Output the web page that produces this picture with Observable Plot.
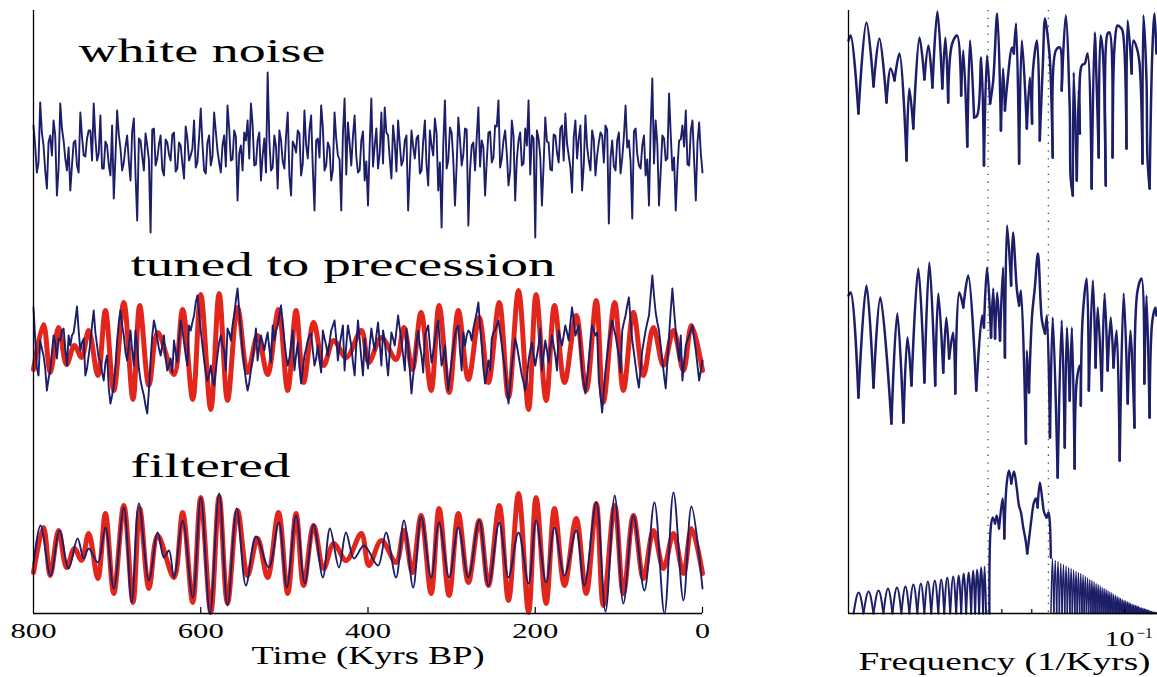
<!DOCTYPE html>
<html><head><meta charset="utf-8">
<script src="https://cdn.jsdelivr.net/npm/d3@7"></script>
<script src="https://cdn.jsdelivr.net/npm/@observablehq/plot@0.6"></script>
<style>
html,body{margin:0;padding:0;background:#fff;}
#wrap{position:relative;width:1157px;height:677px;overflow:hidden;background:#fff;}
#left{position:absolute;left:0;top:0;width:720px;}
#right{position:absolute;left:790px;top:0;width:367px;}
svg{max-width:none !important;}
</style></head><body><div id="wrap"><div id="left"></div><div id="right"></div></div>
<script>
// ---------- LEFT PANEL DATA (time series, Kyrs BP) ----------
const noiseStep = 2; // kyr between samples, starting at 800 Kyrs BP
const whiteNoise = [25,5,-22,-12,48,18,5,-20,-38,8,15,-5,30,15,-45,-18,47,22,10,-8,
-20,3,-40,-15,8,10,-15,-22,38,14,-5,-6,12,20,20,-10,47,12,-10,-3,
35,-18,-18,9,5,-14,-25,25,-48,-7,40,16,2,-20,-12,4,15,-11,-30,19,
32,-24,-70,12,10,-6,-20,17,5,-9,-82,21,22,-15,-8,6,15,-19,-25,11,
8,-4,-10,16,18,-21,-18,8,5,-13,-28,24,12,-10,-5,2,30,-17,-12,13,
42,7,-20,-23,8,15,-15,-6,38,19,0,-12,-22,5,15,-16,45,22,-10,-9,
20,14,-50,-3,5,-20,18,10,30,-8,47,26,-15,-14,10,18,-30,-5,12,-22,
78,11,-20,-17,15,4,-38,20,10,-11,-18,15,38,-25,-45,9,5,-2,20,17,
-25,-13,40,6,-8,21,35,-18,-60,10,12,-7,45,23,-20,-15,8,3,-30,-19,
38,12,-5,-9,-60,16,52,-24,28,8,-15,14,35,-6,-22,-20,10,19,-30,-11,
-55,5,52,-16,5,22,-18,-3,38,-13,43,18,15,-8,-28,25,8,-21,30,7,
-15,-10,10,15,-60,-19,20,4,-8,12,15,-23,-20,9,30,-14,-35,20,5,-5,
32,17,-40,-12,-77,6,50,-18,-10,23,18,-9,-55,-15,33,11,-15,-4,22,21,
-75,-20,5,8,-20,13,43,-16,10,3,-45,-11,18,19,-12,-7,25,24,50,-17,
-8,10,20,-3,-35,-21,30,15,-50,-9,10,18,-15,-13,22,5,50,-24,15,12,
-87,20,12,-6,-55,-14,33,9,8,-19,-20,16,15,-2,-12,22,25,-10,37,7,
-5,-17,-42,13,30,-8,12,25,-40,-15,35,4,-10,-20,20,11,-25,-5,8,18,
15,-12,25,21,-73,-7,10,-16,-20,10,18,-23,-8,14,45,3,10,-11,-68,19,
22,-4,-15,-18,5,15,-25,-9,-55,23,72,-13,30,6,-55,-21,15,12,-10,-8,
57,16,-20,-7,-60,-19,10,11,25,4,40,-14,-15,20,30,-10,-50,8,28,-3,
-22];
const tunedNoise = [43,12,-17,-25,10,2,-5,-18,-40,-28,-20,-2,15,8,-8,12,10,20,22,2,
-15,15,5,15,18,30,44,20,0,8,12,-25,-18,-5,8,25,40,18,5,-8,
-10,-22,-30,-12,-5,-38,-53,-45,-35,-15,10,28,40,25,15,-2,-10,5,20,0,
-15,20,5,-18,-30,-38,-45,-55,-63,-40,-10,15,30,22,12,2,-5,5,15,-8,
-20,-15,-8,-22,10,-2,-12,12,30,22,8,-5,-15,25,20,28,35,48,55,38,
20,5,-10,-22,-30,-25,-15,-28,-35,-20,-5,8,15,5,0,-20,22,18,10,25,
35,50,62,40,20,0,-15,-30,-40,-32,-20,-8,5,22,-10,5,15,8,0,10,
18,2,-12,25,10,20,25,35,45,28,10,-5,-15,-8,5,20,-20,-5,8,-15,
-33,-20,-5,2,10,15,17,0,-15,-8,5,-10,-22,20,12,5,-5,8,20,25,
30,12,-10,5,15,25,-20,5,25,15,5,-12,-25,5,30,12,-8,-25,12,-5,
-18,5,22,10,0,15,28,8,-15,20,10,-8,-25,-2,18,12,5,20,35,22,
10,-5,-20,22,5,-20,-43,-25,-10,8,20,5,-5,-22,15,20,25,5,-12,-2,
10,22,30,5,-15,-8,5,-20,-40,-25,-10,2,15,22,25,0,-20,18,5,15,
20,18,10,22,30,38,48,25,5,-18,-33,-22,-10,-20,12,18,20,25,30,18,
5,-8,-20,-38,-53,-35,-15,-2,12,5,-5,-15,-25,-32,-40,-28,-10,0,8,-5,
-15,-5,5,22,-20,-5,10,0,-12,2,15,5,-5,-20,20,12,5,15,25,18,
10,28,43,30,15,20,25,2,-20,-32,-43,-28,-10,8,25,20,15,18,-30,-45,
-62,-40,-20,-5,10,20,30,22,15,5,-5,-22,20,28,35,45,53,30,10,-2,
-15,-28,-37,-18,0,10,20,28,35,55,75,55,38,28,20,5,-10,-25,-38,-12,
15,40,62,40,20,5,-10,15,-30,-12,5,10,15,20,25,12,0,-15,-30,-20,
-10];
// orbital precession target (extrema), shared by the two lower panels
const precessionTime = [800,788,780,770,760.5,751,742.5,734,723,714,704,692,681,673,662,651.5,632,621.6,609.6,600,
588,578,568,556,544,532,520,507,496,486,477,465,453,441,426,408,399,384,366.5,357,
347,336.5,324.5,315,303,292,280,267,256,243,232,220,208,199,187,177,165,151,139,127,
118.6,105,94.6,82.6,70.7,58.7,46.7,34.7,22.8,13.2,0];
const precessionValue = [-19,26,-22,23,-14,5,-7,20,-25,40,-40,48,-49,45,-35,18,-24,41,-49,56,
-59,57,-50,43,-22,15,-24,41,-40,40,-32,28,-15,10,-7,20,-12,13,-9,23,
-19,38,-40,45,-42,40,-29,33,-32,48,-47,60,-59,56,-50,45,-32,35,-40,50,
-52,48,-40,38,-25,23,-15,20,-20,25,-20];
// band-pass filtered record (extrema)
const filteredTime = [800,791.6,779.6,768.9,758,747.3,740,734,723,714,704,692,682.6,674,662,651.5,644,638,632,621.6,
609.6,600,589,578,568,557,546,534,518.6,506.6,497,486,475.5,465,454,445.5,434.7,426.3,416.8,404.8,
388,378.4,366.5,357,346,336.5,324.5,315,303,292,280,267,256,243,232,220,208,199,187,177,
165,151,141.3,127,116,105,94.6,82.6,69.5,57.5,45.5,34.7,22.8,13.2,0];
const filteredValue = [-10,28,-22,23,-15,15,-5,5,-9,26,-35,46,-49,50,-27,21,-4,3,-24,33,
-44,56,-60,60,-52,45,-32,17,-14,31,-34,38,-30,29,-24,25,-14,21,-5,8,
-12,21,-24,33,-34,37,-24,31,-24,26,-24,33,-32,31,-24,21,-30,33,-29,26,
-22,23,-32,51,-58,58,-50,38,-37,51,-60,61,-47,47,-35];
const timeTicks = [800,600,400,200,0];

// ---------- RIGHT PANEL DATA (spectra vs frequency, 1/Kyrs) ----------
const specTopLogFreq = [-1.895,-1.888,-1.863,-1.837,-1.814,-1.795,-1.772,-1.759,-1.746,-1.730,
-1.707,-1.698,-1.685,-1.665,-1.649,-1.636,-1.623,-1.607,-1.591,-1.581,
-1.572,-1.559,-1.543,-1.530,-1.523,-1.510,-1.501,-1.488,-1.478,-1.465,
-1.456,-1.446,-1.436,-1.426,-1.413,-1.401,-1.394,-1.388,-1.381,-1.365,
-1.359,-1.352,-1.342,-1.333,-1.317,-1.307,-1.300,-1.297,-1.284,-1.275,
-1.265,-1.258,-1.249,-1.242,-1.233,-1.223,-1.210,-1.204,-1.191,-1.178,
-1.175,-1.168,-1.165,-1.155,-1.149,-1.145,-1.139,-1.129,-1.120,-1.107,
-1.097,-1.091,-1.084,-1.078,-1.071,-1.061,-1.055,-1.049,-1.039,-1.032,
-1.023,-1.013,-1.007,-0.994,-0.990,-0.977,-0.971,-0.961,-0.952,-0.942,
-0.939,-0.929,-0.926,-0.919,-0.910,-0.903,-0.897];
const specTopLevel = [155,160,82,173,109,157,93,127,115,142,
35,107,67,158,116,150,108,184,107,158,
93,152,160,100,145,49,155,78,80,138,
30,140,92,115,182,65,127,85,110,148,
142,172,32,155,67,118,72,125,155,55,
132,177,158,135,38,145,148,105,180,88,
18,0,123,15,105,62,130,132,142,7,
163,115,38,160,145,10,162,163,38,152,
170,168,165,47,175,122,155,148,133,32,
180,115,38,7,145,182,142];
const specMidLogFreq = [-1.895,-1.888,-1.863,-1.837,-1.814,-1.792,-1.756,-1.737,-1.717,-1.704,
-1.691,-1.669,-1.649,-1.633,-1.614,-1.604,-1.588,-1.578,-1.569,-1.556,
-1.549,-1.536,-1.523,-1.507,-1.481,-1.462,-1.456,-1.446,-1.433,-1.426,
-1.420,-1.413,-1.404,-1.394,-1.388,-1.381,-1.368,-1.362,-1.349,-1.342,
-1.336,-1.320,-1.317,-1.310,-1.300,-1.291,-1.281,-1.268,-1.258,-1.252,
-1.242,-1.233,-1.217,-1.204,-1.194,-1.187,-1.178,-1.171,-1.162,-1.155,
-1.145,-1.142,-1.136,-1.123,-1.116,-1.103,-1.094,-1.087,-1.074,-1.065,
-1.055,-1.045,-1.036,-1.026,-1.016,-1.003,-0.990,-0.981,-0.968,-0.958,
-0.945,-0.936,-0.929,-0.919,-0.910,-0.900,-0.897];
const specMidLevel = [185,188,83,195,93,183,57,167,58,143,
95,212,98,218,95,187,108,163,122,148,
87,188,173,205,90,165,153,213,143,192,
142,188,140,213,123,255,195,248,190,175,
190,37,130,88,165,193,227,160,147,165,
43,163,3,160,33,153,80,153,12,100,
115,75,163,202,90,200,113,173,90,187,
110,163,113,150,20,187,77,150,53,190,
202,97,185,63,160,173,165];
// filtered spectrum: leakage side lobes below the band
const archZeroFreq = [0.01322,0.01424,0.01534,0.01652,0.01767,0.01889,0.02005,0.02128,0.02242,0.02361,
0.02488,0.02601,0.02720,0.02844,0.02952,0.03064,0.03180,0.03276,0.03375,0.03477,0.03555];
const archHeight = [21,22,23,25,26,27,29,30,32,33,34,36,37,38,40,41,43,44,46,47];
// pass band
const bandFreq = [0.03644,0.03682,0.03737,0.03801,0.03850,0.03916,0.03966,0.04026,0.04074,0.04147,
0.04218,0.04292,0.04379,0.04467,0.04544,0.04613,0.04692,0.04777,0.04834,0.04906,
0.04995,0.05081,0.05157,0.05222,0.05312,0.05404,0.05485,0.05584,0.05667,0.05722,0.05765];
const bandLevel = [0,86,96,90,98,85,101,115,75,130,
143,130,142,126,108,101,86,73,60,76,
96,111,115,106,131,115,101,96,101,91,56];
// side lobes above the band
const denseZeroFreq = [0.0577,0.05895,0.0602,0.06145,0.0627,0.06395,0.0652,0.06645,0.0677,0.06895,
0.0702,0.07145,0.0727,0.07395,0.0752,0.07645,0.0777,0.07895,0.0802,0.08145,
0.0827,0.08395,0.0852,0.08645,0.0877,0.08895,0.0902,0.09145,0.0927,0.09395,
0.0952,0.09645,0.0977,0.09895,0.1002,0.10145,0.1027,0.10395,0.1052,0.10645,
0.1077,0.10895,0.1102,0.11145,0.1127,0.11395,0.1152,0.11645,0.1177,0.11895,
0.1202,0.12145,0.1227,0.12395,0.1252,0.12645,0.1277];
const denseHeight = [55,53,52,50,49,47.5,46,45,43.5,42,
41,40,38.5,37,35.5,34,33,31.5,30,29,
27.5,26,25,24,22.5,21.5,20.5,19,18,17,
16,15,14,13,12.5,11.5,11,10,9,8.5,
8,7.5,7,6,5.5,5,4.5,4,3.5,3,
2.5,2,1.5,1,1,0.5];
const bandEdges = [0.0361, 0.0566]; // precession band (dotted)
const freqTicks = [0.04, 0.05, 0.1];

// ---------- STYLE ----------
const BLUE = "#1c1e6a", RED = "#e3261c", SERIF = "Liberation Serif, Times New Roman, serif";
const OFF_WHITE = 463, OFF_TUNED = 263, OFF_FILT = 60;     // left stacking
const OFF_TOP = 418, OFF_MID = 133, OFF_BOT = 0;            // right stacking

const prec = precessionTime.map((t,i)=>({t, v: precessionValue[i]}));
const filt = filteredTime.map((t,i)=>({t, v: filteredValue[i]}));

const left = Plot.plot({
  width: 720, height: 677,
  marginLeft: 33, marginRight: 18, marginTop: 10, marginBottom: 64,
  x: {domain: [800, 0], axis: null},
  y: {domain: [0, 603], axis: null},
  marks: [
    Plot.line(whiteNoise, {x: (d,i)=>800 - i*noiseStep, y: d=>OFF_WHITE + d, stroke: BLUE, strokeWidth: 1.9}),
    Plot.line(prec, {x: "t", y: d=>OFF_TUNED + d.v, curve: "catmull-rom", stroke: RED, strokeWidth: 5}),
    Plot.line(tunedNoise, {x: (d,i)=>800 - i*noiseStep, y: d=>OFF_TUNED + d, stroke: BLUE, strokeWidth: 1.9}),
    Plot.line(prec, {x: "t", y: d=>OFF_FILT + d.v, curve: "catmull-rom", stroke: RED, strokeWidth: 5}),
    Plot.line(filt, {x: "t", y: d=>OFF_FILT + d.v, curve: "catmull-rom", stroke: BLUE, strokeWidth: 1.9}),
    Plot.ruleX([800], {stroke: "black", strokeWidth: 1.3}),
    Plot.ruleY([0], {stroke: "black", strokeWidth: 1.3}),
    Plot.ruleX(timeTicks.slice(1), {y1: 0, y2: 6, stroke: "black", strokeWidth: 1.2}),
    Plot.text(timeTicks, {x: d=>d, text: d=>String(d), frameAnchor: "bottom", dy: 24, lineAnchor: "bottom", fontSize: 22, fontFamily: SERIF, fill: "black"}),
    Plot.text(["Time (Kyrs BP)"], {text: d=>d, frameAnchor: "bottom", dy: 50, lineAnchor: "bottom", fontSize: 25, fontFamily: SERIF, fill: "black"}),
    Plot.text(["white noise"], {text: d=>d, frameAnchor: "top-left", dx: 45, dy: 51, textAnchor: "start", lineAnchor: "bottom", fontSize: 33, fontFamily: SERIF, fill: "black"}),
    Plot.text(["tuned to precession"], {text: d=>d, frameAnchor: "top-left", dx: 97, dy: 265, textAnchor: "start", lineAnchor: "bottom", fontSize: 34, fontFamily: SERIF, fill: "black"}),
    Plot.text(["filtered"], {text: d=>d, frameAnchor: "top-left", dx: 97, dy: 466, textAnchor: "start", lineAnchor: "bottom", fontSize: 34, fontFamily: SERIF, fill: "black"})
  ]
});

// split a spectrum into lobes at its local minima so dips stay sharp
function lobes(freqs, levels, offset) {
  const out = []; let seg = 0;
  for (let i = 0; i < freqs.length; i++) {
    out.push({f: freqs[i], y: offset + levels[i], seg});
    const isMin = i > 0 && i < freqs.length - 1 && levels[i] < levels[i-1] && levels[i] <= levels[i+1];
    if (isMin) { seg++; out.push({f: freqs[i], y: offset + levels[i], seg}); }
  }
  return out;
}
function arches(zeros, heights, offset) {
  const out = [];
  heights.forEach((h, k) => {
    const a = zeros[k], b = zeros[k+1];
    out.push({f: a, y: offset, k}, {f: (a+b)/2, y: offset + h, k}, {f: b, y: offset, k});
  });
  return out;
}
const topSpec = lobes(specTopLogFreq.map(v=>10**v), specTopLevel, OFF_TOP);
const midSpec = lobes(specMidLogFreq.map(v=>10**v), specMidLevel, OFF_MID);
const bandSpec = lobes(bandFreq, bandLevel, OFF_BOT);
const lowArches = arches(archZeroFreq, archHeight, OFF_BOT);
const highArches = arches(denseZeroFreq, denseHeight, OFF_BOT);

const right = Plot.plot({
  width: 367, height: 677,
  marginLeft: 58, marginRight: 0, marginTop: 10, marginBottom: 64,
  x: {type: "log", domain: [0.01273, 0.12782], axis: null},
  y: {domain: [0, 603], axis: null},
  marks: [
    Plot.ruleX(bandEdges, {stroke: "#444", strokeWidth: 1.3, strokeDasharray: "1.3,6.5"}),
    Plot.line(topSpec, {x: "f", y: "y", z: "seg", curve: "catmull-rom", stroke: BLUE, strokeWidth: 2.5}),
    Plot.line(midSpec, {x: "f", y: "y", z: "seg", curve: "catmull-rom", stroke: BLUE, strokeWidth: 2.5}),
    Plot.line(lowArches, {x: "f", y: "y", z: "k", curve: "natural", stroke: BLUE, strokeWidth: 2}),
    Plot.line(bandSpec, {x: "f", y: "y", z: "seg", curve: "catmull-rom", stroke: BLUE, strokeWidth: 2.4}),
    Plot.line(highArches, {x: "f", y: "y", z: "k", curve: "natural", stroke: BLUE, strokeWidth: 1.5}),
    Plot.ruleX([0.01273], {stroke: "black", strokeWidth: 1.3}),
    Plot.ruleY([0], {stroke: "black", strokeWidth: 1.3}),
    Plot.ruleX(freqTicks, {y1: 0, y2: 4, stroke: "black", strokeWidth: 1.2}),
    Plot.text([0.1], {x: d=>d, text: ()=>"10", frameAnchor: "bottom", dx: -5, dy: 32, lineAnchor: "bottom", fontSize: 22, fontFamily: SERIF, fill: "black"}),
    Plot.text([0.1], {x: d=>d, text: ()=>"\u22121", frameAnchor: "bottom", dx: 20, dy: 24, lineAnchor: "bottom", fontSize: 15, fontFamily: SERIF, fill: "black"}),
    Plot.text(["Frequency (1/Kyrs)"], {text: d=>d, frameAnchor: "bottom", dx: 1.5, dy: 56, lineAnchor: "bottom", fontSize: 25, fontFamily: SERIF, fill: "black"})
  ]
});

document.getElementById("left").appendChild(left);
document.getElementById("right").appendChild(right);

// the original figure's lettering is horizontally stretched
const textWidths = {"white noise": 247, "tuned to precession": 425, "filtered": 160,
  "800": 46, "600": 46, "400": 46, "200": 46, "0": 15, "Time (Kyrs BP)": 233,
  "Frequency (1/Kyrs)": 292, "10": 30, "\u22121": 16};
for (const svg of [left, right]) {
  d3.select(svg).selectAll("text").each(function() {
    const w = textWidths[this.textContent];
    if (w) { this.setAttribute("textLength", w); this.setAttribute("lengthAdjust", "spacingAndGlyphs"); }
  });
}
</script></body></html>
